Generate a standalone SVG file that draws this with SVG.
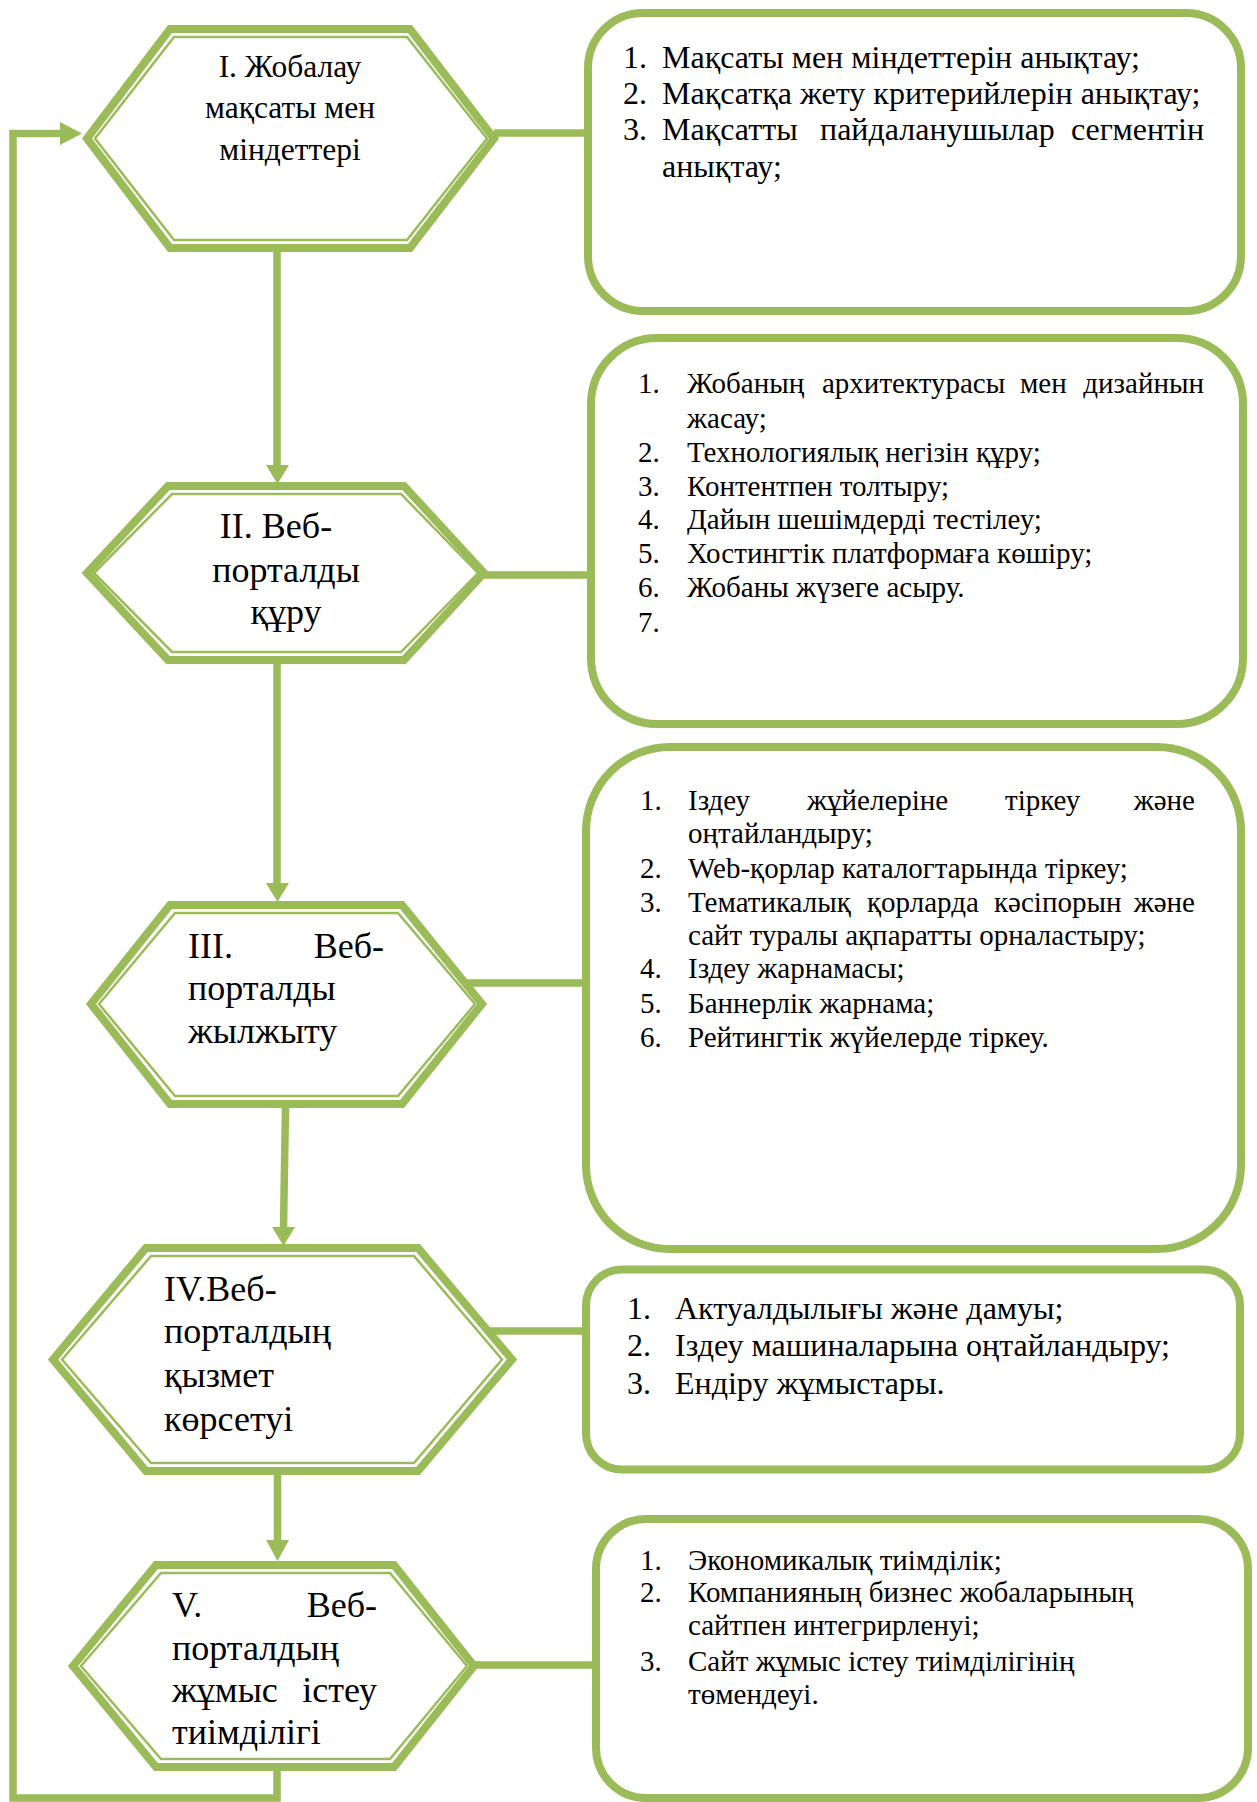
<svg xmlns="http://www.w3.org/2000/svg" width="1257" height="1802" viewBox="0 0 1257 1802">
<style>
.bg{fill:#ffffff}
.hexo{fill:#ffffff;stroke:#9BBB59;stroke-width:8;stroke-linejoin:miter}
.hexi{fill:none;stroke:#9BBB59;stroke-width:2.5;stroke-linejoin:miter}
.box{fill:#ffffff;stroke:#9BBB59;stroke-width:8}
.con{fill:none;stroke:#9BBB59;stroke-width:7.5;stroke-linejoin:miter;stroke-linecap:butt}
.ah{fill:#9BBB59;stroke:none}
text{font-family:"Liberation Serif","Times New Roman",serif;fill:#000000}
.h1{font-size:31.5px}
.h{font-size:36px}
.bl{font-size:32px}
.bs{font-size:29px}
.mid{text-anchor:middle}
.end{text-anchor:end}
</style>
<rect class="bg" x="0" y="0" width="1257" height="1802"/>

<g id="connectors">
  <line class="con" x1="277" y1="250" x2="277" y2="467"/>
  <polygon class="ah" points="266,465 289,465 277.5,484"/>
  <line class="con" x1="277" y1="662" x2="277" y2="885"/>
  <polygon class="ah" points="266,883 289,883 277.5,902"/>
  <line class="con" x1="285.5" y1="1106" x2="283.5" y2="1229"/>
  <polygon class="ah" points="272,1227 295,1227 283.5,1246"/>
  <line class="con" x1="277.5" y1="1473" x2="277.5" y2="1542"/>
  <polygon class="ah" points="266,1540 289,1540 277.5,1561"/>
  <polyline class="con" points="277,1768 277,1798 13,1798 13,133.5 62,133.5"/>
  <polygon class="ah" points="60,122 60,145 82,133.5"/>
  <line class="con" x1="494" y1="133" x2="588" y2="133"/>
  <line class="con" x1="484" y1="575" x2="591" y2="575"/>
  <line class="con" x1="465" y1="983" x2="586" y2="983"/>
  <line class="con" x1="480" y1="1331" x2="586" y2="1331"/>
  <line class="con" x1="474" y1="1665" x2="596" y2="1665"/>
</g>

<g id="hex1">
  <polygon class="hexo" points="87,138.5 170,29 410,29 494,138.5 410,248 170,248"/>
  <polygon class="hexi" points="95,138.5 174,37 407,37 487,138.5 407,240 174,240"/>
  <text class="h1 mid" x="290" y="77">І. Жобалау</text>
  <text class="h1 mid" x="290" y="118">мақсаты мен</text>
  <text class="h1 mid" x="290" y="160">міндеттері</text>
</g>

<g id="box1">
  <rect class="box" x="588" y="13" width="653" height="298" rx="55" ry="55"/>
  <text class="bl" x="623" y="68">1.</text>
  <text class="bl" x="662" y="68">Мақсаты мен міндеттерін анықтау;</text>
  <text class="bl" x="623" y="104">2.</text>
  <text class="bl" x="662" y="104">Мақсатқа жету критерийлерін анықтау;</text>
  <text class="bl" x="623" y="140">3.</text>
  <text class="bl" x="662" y="140">Мақсатты</text>
  <text class="bl" x="820" y="140">пайдаланушылар</text>
  <text class="bl end" x="1204" y="140">сегментін</text>
  <text class="bl" x="662" y="177">анықтау;</text>
</g>

<g id="hex2">
  <polygon class="hexo" points="87,573 168,486 404,486 484,573 404,660 168,660"/>
  <polygon class="hexi" points="94,573 172,494 401,494 478,573 401,652 172,652"/>
  <text class="h mid" x="276" y="538">ІІ. Веб-</text>
  <text class="h mid" x="286" y="582">порталды</text>
  <text class="h mid" x="286" y="624">құру</text>
</g>

<g id="box2">
  <rect class="box" x="591" y="338" width="652" height="386" rx="66" ry="66"/>
  <text class="bs" x="638" y="393">1.</text>
  <text class="bs" x="687" y="393">Жобаның</text>
  <text class="bs" x="822" y="393">архитектурасы</text>
  <text class="bs" x="1020" y="393">мен</text>
  <text class="bs end" x="1204" y="393">дизайнын</text>
  <text class="bs" x="687" y="428">жасау;</text>
  <text class="bs" x="638" y="462">2.</text>
  <text class="bs" x="687" y="462">Технологиялық негізін құру;</text>
  <text class="bs" x="638" y="496">3.</text>
  <text class="bs" x="687" y="496">Контентпен толтыру;</text>
  <text class="bs" x="638" y="529">4.</text>
  <text class="bs" x="687" y="529">Дайын шешімдерді тестілеу;</text>
  <text class="bs" x="638" y="563">5.</text>
  <text class="bs" x="687" y="563">Хостингтік платформаға көшіру;</text>
  <text class="bs" x="638" y="597">6.</text>
  <text class="bs" x="687" y="597">Жобаны жүзеге асыру.</text>
  <text class="bs" x="638" y="632">7.</text>
</g>

<g id="hex3">
  <polygon class="hexo" points="91,1004 170,905 402,905 482,1004 402,1104 170,1104"/>
  <polygon class="hexi" points="99,1004 175,913 398,913 475,1004 398,1096 175,1096"/>
  <text class="h" x="188" y="958">ІІІ.</text>
  <text class="h end" x="384" y="958">Веб-</text>
  <text class="h" x="188" y="1000">порталды</text>
  <text class="h" x="188" y="1043">жылжыту</text>
</g>

<g id="box3">
  <rect class="box" x="586" y="747" width="655" height="502" rx="84" ry="84"/>
  <text class="bs" x="640" y="810">1.</text>
  <text class="bs" x="688" y="810">Іздеу</text>
  <text class="bs" x="807" y="810">жұйелеріне</text>
  <text class="bs" x="1005" y="810">тіркеу</text>
  <text class="bs end" x="1195" y="810">және</text>
  <text class="bs" x="688" y="843">оңтайландыру;</text>
  <text class="bs" x="640" y="878">2.</text>
  <text class="bs" x="688" y="878">Web-қорлар каталогтарында тіркеу;</text>
  <text class="bs" x="640" y="912">3.</text>
  <text class="bs" x="688" y="912">Тематикалық</text>
  <text class="bs" x="867" y="912">қорларда</text>
  <text class="bs" x="994" y="912">кәсіпорын</text>
  <text class="bs end" x="1195" y="912">және</text>
  <text class="bs" x="688" y="945">сайт туралы ақпаратты орналастыру;</text>
  <text class="bs" x="640" y="978">4.</text>
  <text class="bs" x="688" y="978">Іздеу жарнамасы;</text>
  <text class="bs" x="640" y="1013">5.</text>
  <text class="bs" x="688" y="1013">Баннерлік жарнама;</text>
  <text class="bs" x="640" y="1047">6.</text>
  <text class="bs" x="688" y="1047">Рейтингтік жүйелерде тіркеу.</text>
</g>

<g id="hex4">
  <polygon class="hexo" points="53,1359.5 146,1248 418,1248 512,1359.5 418,1471 146,1471"/>
  <polygon class="hexi" points="62,1359.5 151,1256 414,1256 502,1359.5 414,1463 151,1463"/>
  <text class="h" x="164" y="1301">IV.Веб-</text>
  <text class="h" x="164" y="1343">порталдың</text>
  <text class="h" x="164" y="1387">қызмет</text>
  <text class="h" x="164" y="1431">көрсетуі</text>
</g>

<g id="box4">
  <rect class="box" x="586" y="1269.5" width="654" height="200" rx="36" ry="36"/>
  <text class="bl" x="627" y="1319">1.</text>
  <text class="bl" x="675" y="1319">Актуалдылығы және дамуы;</text>
  <text class="bl" x="627" y="1356">2.</text>
  <text class="bl" x="675" y="1356">Іздеу машиналарына оңтайландыру;</text>
  <text class="bl" x="627" y="1394">3.</text>
  <text class="bl" x="675" y="1394">Ендіру жұмыстары.</text>
</g>

<g id="hex5">
  <polygon class="hexo" points="73,1666 156,1565 394,1565 474,1666 394,1767 156,1767"/>
  <polygon class="hexi" points="81,1666 161,1573 390,1573 467,1666 390,1759 161,1759"/>
  <text class="h" x="172" y="1617">V.</text>
  <text class="h end" x="377" y="1617">Веб-</text>
  <text class="h" x="172" y="1660">порталдың</text>
  <text class="h" x="172" y="1702">жұмыс</text>
  <text class="h end" x="377" y="1702">істеу</text>
  <text class="h" x="172" y="1744">тиімділігі</text>
</g>

<g id="box5">
  <rect class="box" x="596" y="1519" width="652" height="279" rx="50" ry="50"/>
  <text class="bs" x="640" y="1570">1.</text>
  <text class="bs" x="688" y="1570">Экономикалық тиімділік;</text>
  <text class="bs" x="640" y="1602">2.</text>
  <text class="bs" x="688" y="1602">Компанияның бизнес жобаларының</text>
  <text class="bs" x="688" y="1635">сайтпен интегрирленуі;</text>
  <text class="bs" x="640" y="1671">3.</text>
  <text class="bs" x="688" y="1671">Сайт жұмыс істеу тиімділігінің</text>
  <text class="bs" x="688" y="1704">төмендеуі.</text>
</g>
</svg>
